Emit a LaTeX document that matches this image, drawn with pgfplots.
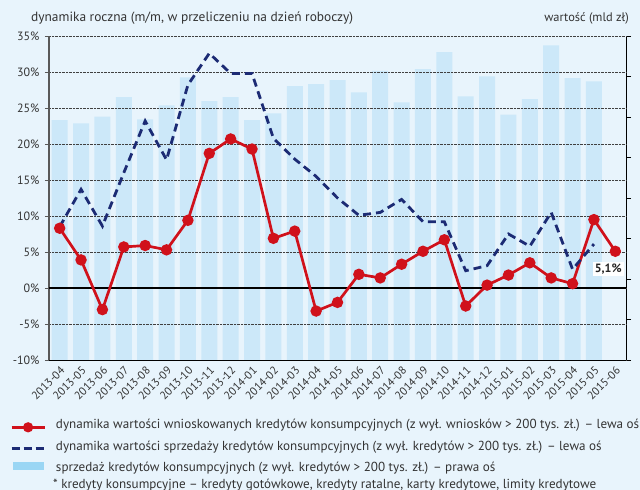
\documentclass[border=0pt]{standalone}
\usepackage{pgfplots}
\usepackage{pgfplotstable}
\pgfplotsset{compat=1.18}
\usepackage{fontspec}
\setmainfont{PT Sans}
\definecolor{bg}{HTML}{E8F4FC}
\definecolor{barblue}{HTML}{CCE8F9}
\definecolor{legbar}{HTML}{9AD6F4}
\definecolor{myred}{HTML}{D0111B}
\definecolor{navy}{HTML}{1C2B74}
\definecolor{txt}{HTML}{333333}

\pgfplotstableread{
x v
0 5.92
1 5.84
2 6.01
3 6.49
4 5.94
5 6.29
6 6.98
7 6.39
8 6.49
9 5.92
10 6.09
11 6.76
12 6.81
13 6.91
14 6.61
15 7.14
16 6.36
17 7.18
18 7.60
19 6.51
20 7.00
21 6.06
22 6.44
23 7.77
24 6.96
25 6.88
}\bars

\pgfplotstableread{
x v
0 8.3
1 3.9
2 -3.0
3 5.7
4 5.9
5 5.3
6 9.4
7 18.7
8 20.7
9 19.3
10 6.9
11 7.9
12 -3.2
13 -2.0
14 1.9
15 1.4
16 3.3
17 5.1
18 6.7
19 -2.5
20 0.4
21 1.8
22 3.5
23 1.4
24 0.6
25 9.5
26 5.1
}\redline

\pgfplotstableread{
x v
0 8.5
1 13.7
2 8.6
3 16.0
4 23.2
5 17.8
6 28.2
7 32.6
8 29.8
9 29.8
10 20.8
11 17.9
12 15.5
13 12.5
14 10.1
15 10.5
16 12.3
17 9.2
18 9.2
19 2.4
20 3.1
21 7.5
22 5.8
23 10.5
24 2.6
25 6.1
}\navyline

\begin{document}
\begin{tikzpicture}[x=1pt,y=1pt]
\fill[bg] (0,0) rectangle (640,490);
\useasboundingbox (0,0) rectangle (640,490);

% right axis: bars
\begin{axis}[
  at={(49pt,130pt)}, anchor=south west,
  width=577pt, height=324pt, scale only axis,
  xmin=-0.5, xmax=26.5,
  ymin=0, ymax=8,
  axis x line=none,
  axis y line*=right,
  y axis line style={black, line width=1pt},
  ytick={0,1,...,8}, yticklabels={},
  tick align=outside, major tick length=5pt,
  ytick style={black, line width=0.8pt},
  xtick=\empty,
]
\addplot[ybar, bar width=16pt, bar shift=0pt, fill=barblue, draw=none] table[x=x,y=v] {\bars};
\end{axis}

% left axis: lines
\begin{axis}[
  at={(49pt,130pt)}, anchor=south west,
  width=577pt, height=324pt, scale only axis,
  xmin=-0.5, xmax=26.5,
  ymin=-10, ymax=35,
  axis x line*=bottom,
  axis y line*=left,
  x axis line style={black, line width=1pt},
  y axis line style={black!65, line width=1.4pt},
  ytick={-10,-5,...,35},
  yticklabel={\pgfmathprintnumber{\tick}\%},
  /pgf/number format/assume math mode=true,
  ymajorgrids,
  major grid style={densely dotted, black!75, line width=0.9pt},
  extra y ticks={0}, extra y tick labels={},
  extra y tick style={grid=major, major grid style={solid, black, line width=1.2pt}, major tick length=0pt},
  tick align=outside,
  major tick length=4pt,
  ytick style={black!65, line width=0.8pt},
  xtick={0,...,26},
  xticklabels={2013-04,2013-05,2013-06,2013-07,2013-08,2013-09,2013-10,2013-11,2013-12,2014-01,2014-02,2014-03,2014-04,2014-05,2014-06,2014-07,2014-08,2014-09,2014-10,2014-11,2014-12,2015-01,2015-02,2015-03,2015-04,2015-05,2015-06},
  x tick label style={rotate=45, anchor=north east, font=\fontsize{11.3}{12}\selectfont, text=txt, inner sep=1pt},
  xtick style={draw=none},
  y tick label style={font=\fontsize{12}{13}\selectfont, text=txt, xshift=-2pt},
  legend style={at={(-0.0676,-0.174)}, anchor=north west, draw=none, fill=none,
    font=\fontsize{13.1}{14}\selectfont, text=txt, inner sep=0pt,
    nodes={inner sep=0pt, text=txt, text height=12pt, text depth=9.5pt}},
  legend cell align=left,
  clip=false,
]
\addplot[myred, line width=2.7pt, mark=*, mark size=4.3pt, mark options={solid, fill=myred, draw=myred},
  legend image code/.code={
    \draw[myred, line width=2.7pt] (0pt,0pt) -- (33pt,0pt);
    \fill[myred] (16.5pt,0pt) circle (3.7pt);
    \path (43pt,0pt);
  }] table[x=x,y=v] {\redline};
\addlegendentry{dynamika wartości wnioskowanych kredytów konsumpcyjnych (z wył. wniosków > 200 tys. zł.) – lewa oś}
\addplot[navy, line width=2.8pt, dash pattern=on 8pt off 5pt,
  legend image code/.code={
    \draw[navy, line width=2.8pt, dash pattern=on 8pt off 4pt] (0pt,0pt) -- (33pt,0pt);
    \path (43pt,0pt);
  }] table[x=x,y=v] {\navyline};
\addlegendentry{dynamika wartości sprzedaży kredytów konsumpcyjnych (z wył. kredytów > 200 tys. zł.) – lewa oś}
\addlegendimage{legend image code/.code={
    \fill[legbar] (2pt,1.5pt) rectangle (32pt,8.5pt);
    \path (43pt,0pt);
  }}
\addlegendentry{sprzedaż kredytów konsumpcyjnych (z wył. kredytów > 200 tys. zł.) – prawa oś}
\node[fill=white, inner sep=2pt, font=\fontsize{12}{13}\selectfont\bfseries, text=black!85] at (axis cs:25.67,2.6) {5,1\%};
\end{axis}

\node[anchor=west, font=\fontsize{13.4}{14}\selectfont, text=txt, inner sep=0pt] at (31,472) {dynamika roczna (m/m, w przeliczeniu na dzień roboczy)};
\node[anchor=east, font=\fontsize{12.4}{13}\selectfont, text=txt, inner sep=0pt] at (629,472) {wartość (mld zł)};
\node[anchor=west, font=\fontsize{13.1}{14}\selectfont, text=txt, inner sep=0pt] at (53,5) {* kredyty konsumpcyjne – kredyty gotówkowe, kredyty ratalne, karty kredytowe, limity kredytowe};
\end{tikzpicture}
\end{document}
